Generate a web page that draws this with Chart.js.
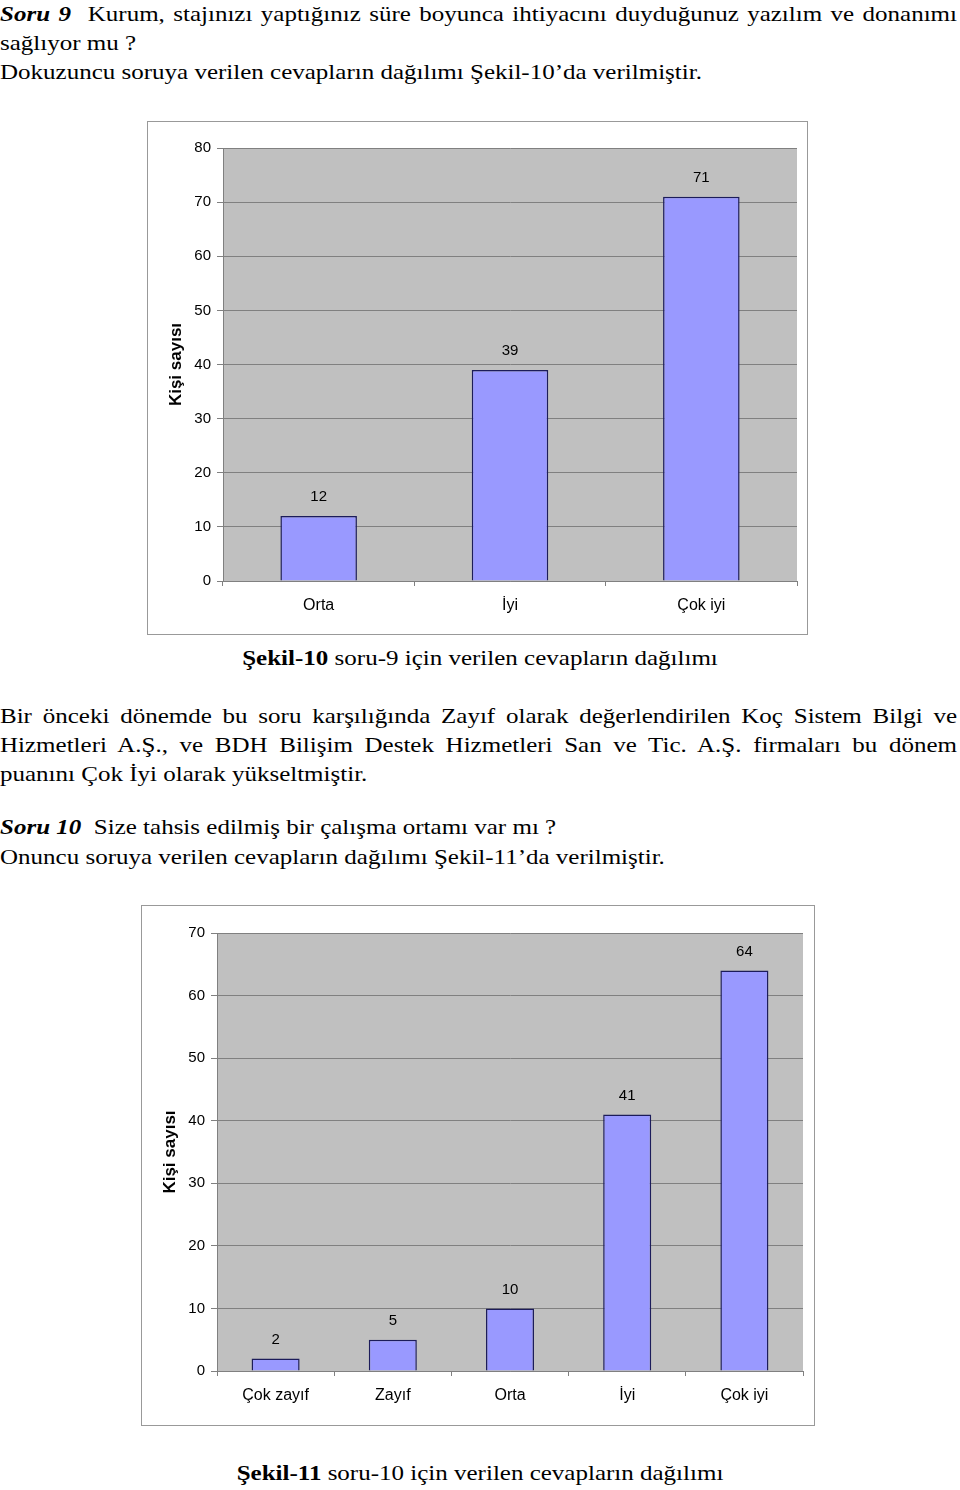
<!DOCTYPE html>
<html lang="tr">
<head>
<meta charset="utf-8">
<title>Şekil-10 / Şekil-11</title>
<script src="https://cdn.jsdelivr.net/npm/chart.js"></script>
<style>
    body {
        margin: 0;
        width: 960px;
        height: 1490px;
        position: relative;
        background: #fff;
        font-family: "Liberation Serif", "Times New Roman", serif;
        font-size: 25px;
        color: #000;
        overflow: hidden;
    }
    .line {
        position: absolute;
        left: 0;
        width: 957px;
        height: 29px;
        line-height: 29px;
        white-space: nowrap;
        transform: scaleY(0.86);
    }
    .just {
        text-align: justify;
        text-align-last: justify;
    }
    .caption {
        position: absolute;
        left: 0;
        width: 960px;
        text-align: center;
        line-height: 29px;
        transform: scaleY(0.86);
    }
    .chart-box {
        position: absolute;
        border: 1px solid #999;
        background: #fff;
    }
    .chart-box canvas {
        display: block;
    }
</style>
</head>
<body>
    <!-- Soru 9 -->
    <div class="line just" style="top:-1px"><b><i>Soru 9</i></b>&nbsp; Kurum, stajınızı yaptığınız süre boyunca ihtiyacını duyduğunuz yazılım ve donanımı</div>
    <div class="line" style="top:28px">sağlıyor mu ?</div>
    <div class="line" style="top:57px">Dokuzuncu soruya verilen cevapların dağılımı Şekil-10’da verilmiştir.</div>

    <div class="chart-box" style="left:147px; top:121px;">
        <canvas id="chart10" width="659" height="512"></canvas>
    </div>
    <div class="caption" style="top:643px"><b>Şekil-10</b> soru-9 için verilen cevapların dağılımı</div>

    <div class="line just" style="top:701px">Bir önceki dönemde bu soru karşılığında Zayıf olarak değerlendirilen Koç Sistem Bilgi ve</div>
    <div class="line just" style="top:730px">Hizmetleri A.Ş., ve BDH Bilişim Destek Hizmetleri San ve Tic. A.Ş. firmaları bu dönem</div>
    <div class="line" style="top:759px">puanını Çok İyi olarak yükseltmiştir.</div>

    <!-- Soru 10 -->
    <div class="line" style="top:812px"><b><i>Soru 10</i></b>&nbsp; Size tahsis edilmiş bir çalışma ortamı var mı ?</div>
    <div class="line" style="top:842px">Onuncu soruya verilen cevapların dağılımı Şekil-11’da verilmiştir.</div>

    <div class="chart-box" style="left:141px; top:905px;">
        <canvas id="chart11" width="672" height="519"></canvas>
    </div>
    <div class="caption" style="top:1458px"><b>Şekil-11</b> soru-10 için verilen cevapların dağılımı</div>

<script>
    // Şekil-10 verileri
    const cats10 = ['Orta', 'İyi', 'Çok iyi'];
    const vals10 = [12, 39, 71];
    const ticks10 = [0, 10, 20, 30, 40, 50, 60, 70, 80];

    // Şekil-11 verileri
    const cats11 = ['Çok zayıf', 'Zayıf', 'Orta', 'İyi', 'Çok iyi'];
    const vals11 = [2, 5, 10, 41, 64];
    const ticks11 = [0, 10, 20, 30, 40, 50, 60, 70];

    const yTitle = 'Kişi sayısı';

    Chart.defaults.font.family = '"Liberation Sans", Arial, sans-serif';
    Chart.defaults.font.size = 15;
    Chart.defaults.color = '#000';

    // gri çizim alanı
    const plotBg = {
        id: 'plotBg',
        beforeDraw(chart) {
            const a = chart.chartArea;
            const ctx = chart.ctx;
            ctx.save();
            ctx.fillStyle = '#c0c0c0';
            ctx.fillRect(a.left, a.top, a.right - a.left, a.bottom - a.top);
            ctx.restore();
        }
    };

    // sütun üstü değerler
    const barValues = {
        id: 'barValues',
        afterDatasetsDraw(chart) {
            const ctx = chart.ctx;
            const meta = chart.getDatasetMeta(0);
            const data = chart.data.datasets[0].data;
            ctx.save();
            ctx.font = '15px "Liberation Sans", Arial, sans-serif';
            ctx.fillStyle = '#000';
            ctx.textAlign = 'center';
            ctx.textBaseline = 'middle';
            meta.data.forEach((bar, i) => {
                ctx.fillText(String(data[i]), bar.x, bar.y - 19);
            });
            ctx.restore();
        }
    };

    function makeChart(id, labels, values, tickList, pad, barPct) {
        const max = tickList[tickList.length - 1];
        return new Chart(document.getElementById(id), {
            type: 'bar',
            data: {
                labels: labels,
                datasets: [{
                    data: values,
                    backgroundColor: '#9999ff',
                    borderColor: '#1c1c5a',
                    borderWidth: 1.5,
                    borderSkipped: 'bottom',
                    barPercentage: barPct,
                    categoryPercentage: 1
                }]
            },
            options: {
                responsive: false,
                animation: false,
                layout: { padding: { left: 0, top: pad.top, right: pad.right, bottom: 0 } },
                plugins: { legend: { display: false }, tooltip: { enabled: false } },
                scales: {
                    x: {
                        grid: { drawOnChartArea: false, drawTicks: true, tickLength: 5, color: '#808080', offset: true },
                        border: { color: '#808080' },
                        ticks: { padding: 10, maxRotation: 0, font: { size: 16 } },
                        afterFit(scale) { scale.height = pad.bottom; }
                    },
                    y: {
                        min: 0,
                        max: max,
                        afterBuildTicks(scale) { scale.ticks = tickList.map(v => ({ value: v })); },
                        grid: { color: '#808080', tickLength: 6 },
                        border: { color: '#808080' },
                        ticks: { padding: 6 },
                        title: {
                            display: true,
                            text: yTitle,
                            font: { weight: 'bold', size: 17 },
                            padding: { top: 18, bottom: 0 }
                        },
                        afterFit(scale) { scale.width = pad.left; }
                    }
                }
            },
            plugins: [plotBg, barValues]
        });
    }

    makeChart('chart10', cats10, vals10, ticks10, { left: 75, top: 26, right: 10, bottom: 53 }, 0.4);
    makeChart('chart11', cats11, vals11, ticks11, { left: 75, top: 27, right: 11, bottom: 54 }, 0.41);
</script>
</body>
</html>
